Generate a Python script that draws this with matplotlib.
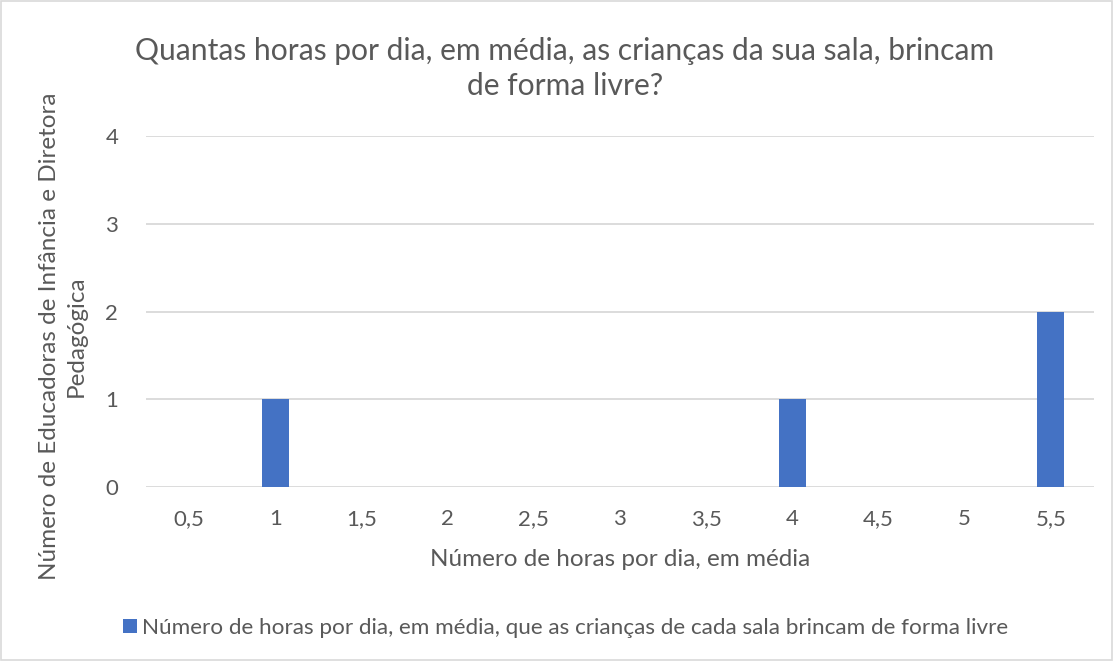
import matplotlib
matplotlib.use("Agg")
import matplotlib.pyplot as plt
from matplotlib.patches import Rectangle

categories = ["0,5", "1", "1,5", "2", "2,5", "3", "3,5", "4", "4,5", "5", "5,5"]
values = [0, 1, 0, 0, 0, 0, 0, 1, 0, 0, 2]
yticks = [0, 1, 2, 3, 4]

title = "Quantas horas por dia, em média, as crianças da sua sala, brincam\nde forma livre?"
xlabel = "Número de horas por dia, em média"
ylabel = "Número de Educadoras de Infância e Diretora\nPedagógica"
series_name = "Número de horas por dia, em média, que as crianças de cada sala brincam de forma livre"

plt.rcParams['font.family'] = ['Lato', 'DejaVu Sans']
text_color = "#595959"
bar_color = "#4472C4"
grid_color = "#D9D9D9"

fig = plt.figure(figsize=(11.14, 6.61), dpi=100)
ax = fig.add_axes([0.131, 0.263, 0.851, 0.531])

x = list(range(len(categories)))
ax.bar(x, values, width=0.31, color=bar_color, zorder=3, label=series_name)
ax.set_xlim(-0.5, len(categories) - 0.5)
ax.set_ylim(0, 4)
ax.set_yticks(yticks)
ax.set_xticks(x)
ax.set_xticklabels(categories)
ax.yaxis.grid(True, color=grid_color, linewidth=1.3, zorder=0)
for s in ax.spines.values():
    s.set_visible(False)
ax.tick_params(axis='both', length=0, colors=text_color, labelsize=16)
ax.tick_params(axis='y', pad=20)
ax.tick_params(axis='x', pad=16)
ax.set_xlabel(xlabel, fontsize=17.5, color=text_color, labelpad=14)
ax.set_ylabel(ylabel, fontsize=17.5, color=text_color, linespacing=1.35)
ax.yaxis.set_label_coords(-0.062, 0.43)

fig.text(0.507, 0.897, title, ha='center', va='center', fontsize=21.6,
         color=text_color, linespacing=1.3)

leg = fig.legend(loc='center', bbox_to_anchor=(0.508, 0.05), frameon=False,
                 fontsize=16.2, handlelength=0.6, handleheight=0.6, handletextpad=0.25,
                 labelcolor=text_color)

fig.patches.append(Rectangle((0.001, 0.002), 0.997, 0.996, transform=fig.transFigure,
                             fill=False, edgecolor="#D9D9D9", linewidth=1.2))

fig.savefig("out.png", dpi=100, facecolor="white")
